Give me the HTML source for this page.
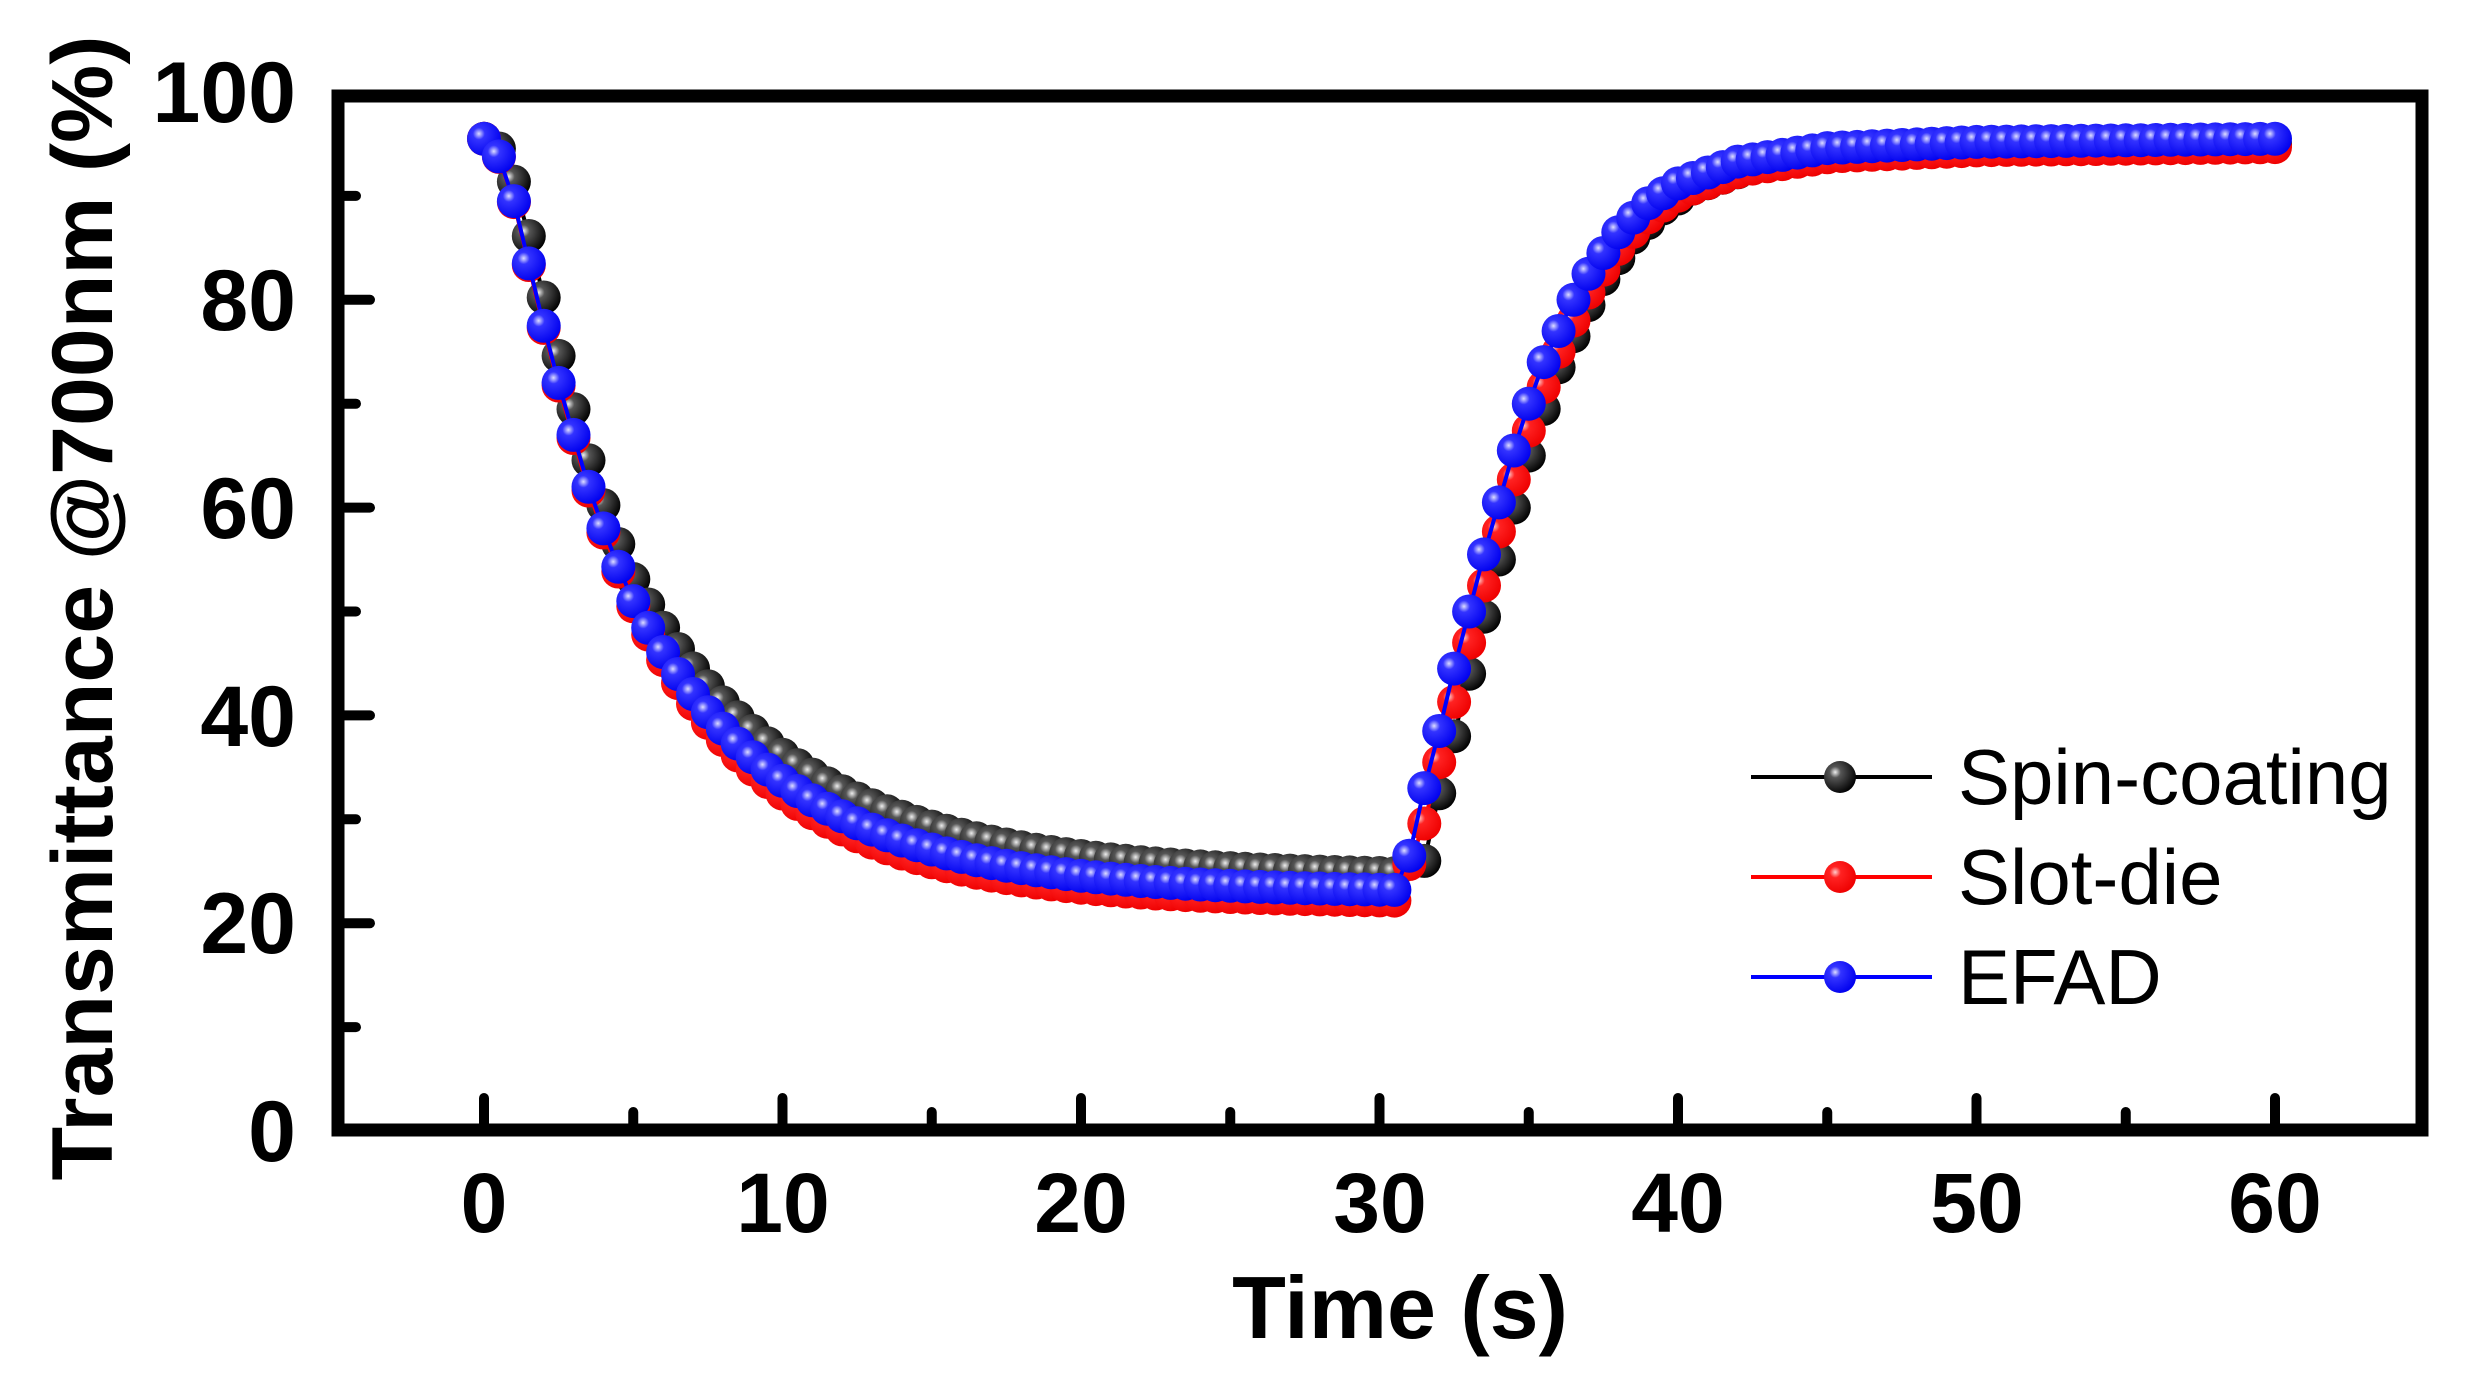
<!DOCTYPE html>
<html><head><meta charset="utf-8"><style>
html,body{margin:0;padding:0;background:#fff;}
svg{display:block;}
text{font-family:"Liberation Sans",sans-serif;}
</style></head><body>
<svg id="s" width="2466" height="1393" viewBox="0 0 2466 1393" xmlns="http://www.w3.org/2000/svg">
<defs>
<radialGradient id="gk" cx="0.35" cy="0.35" r="0.7"><stop offset="0" stop-color="#eee"/><stop offset="0.25" stop-color="#555"/><stop offset="1" stop-color="#000"/></radialGradient>
<radialGradient id="gr" cx="0.35" cy="0.35" r="0.7"><stop offset="0" stop-color="#fcc"/><stop offset="0.25" stop-color="#f22"/><stop offset="1" stop-color="#e00"/></radialGradient>
<radialGradient id="gb" cx="0.35" cy="0.35" r="0.7"><stop offset="0" stop-color="#ddf"/><stop offset="0.25" stop-color="#33f"/><stop offset="1" stop-color="#00e"/></radialGradient>
</defs>
<g id="data"></g>
<rect x="338" y="96" width="2084" height="1034" fill="none" stroke="#000" stroke-width="13"/>
<g id="ticks" stroke="#000" stroke-width="10" stroke-linecap="round"></g>
<g font-weight="bold" font-size="86" text-anchor="end">
<text x="296" y="1161">0</text><text x="296" y="953">20</text><text x="296" y="746">40</text>
<text x="296" y="538">60</text><text x="296" y="330">80</text><text x="296" y="122">100</text>
</g>
<g font-weight="bold" font-size="84" text-anchor="middle">
<text x="484" y="1232">0</text><text x="783" y="1232">10</text><text x="1081" y="1232">20</text>
<text x="1380" y="1232">30</text><text x="1678" y="1232">40</text><text x="1977" y="1232">50</text><text x="2275" y="1232">60</text>
<text x="1400" y="1338" font-size="88">Time (s)</text>
<text transform="translate(112,608) rotate(-90)" font-size="86" textLength="1145" lengthAdjust="spacingAndGlyphs">Transmittance @700nm (%)</text>
</g>
<g font-size="78">
<line x1="1751" y1="777" x2="1932" y2="777" stroke="#000" stroke-width="4"/>
<circle cx="1840" cy="777" r="16" fill="url(#gk)"/>
<text x="1958" y="804">Spin-coating</text>
<line x1="1751" y1="877" x2="1932" y2="877" stroke="#f00" stroke-width="4"/>
<circle cx="1840" cy="877" r="16" fill="url(#gr)"/>
<text x="1958" y="904">Slot-die</text>
<line x1="1751" y1="977" x2="1932" y2="977" stroke="#00f" stroke-width="4"/>
<circle cx="1840" cy="977" r="16" fill="url(#gb)"/>
<text x="1958" y="1004">EFAD</text>
</g>
</svg>
<script>
var X=function(t){return 484+t*29.85;},Y=function(v){return 1131-v*10.39;};
var tk=document.getElementById('ticks'),h='';
for(var t=0;t<=60;t+=5){var x=X(t),L=t%10?12:26;h+='<line x1="'+x+'" y1="1124" x2="'+x+'" y2="'+(1124-L)+'"/>';}
for(var v=10;v<100;v+=10){var y=Y(v),L=v%20?12:26;h+='<line x1="344" y1="'+y+'" x2="'+(344+L)+'" y2="'+y+'"/>';}
tk.innerHTML=h;
function interp(tab,t){if(t<=tab[0][0])return tab[0][1];for(var i=1;i<tab.length;i++)if(t<=tab[i][0]){var a=tab[i-1],b=tab[i];return a[1]+(b[1]-a[1])*(t-a[0])/(b[0]-a[0]);}return tab[tab.length-1][1];}
var rp=[[31,26.5],[31.5,33],[32,38.5],[32.5,44.5],[33,50],[33.5,55.5],[34,60.5],[34.5,65.5],[35,70],[35.5,74],[36,77],[36.5,80],[37,82.5],[38,86.5],[39,89.3],[40,91.2],[42,93.3],[45,94.6],[50,95.2],[60,95.5]];
var ep=[[0,95.5],[0.5,93.8],[1,89.5],[1.5,83.5],[2,77.5],[2.5,72],[3,67],[3.5,62],[4,58],[4.5,54.3],[5,51]];
function ser(fl,tau,lag,off,lag0,off0){var p=[];var v5=interp(ep,5-lag0)+off0;for(var i=0;i<=120;i++){var t=i*0.5,v;
 if(t<=5)v=Math.min(95.5,interp(ep,t-lag0)+off0*(t/5));
 else if(t<=30.5)v=fl+(v5-fl)*Math.exp(-(t-5)/tau);
 else v=Math.max(fl+0.5,interp(rp,t-lag)+off);
 p.push([X(t),Y(v)]);}return p;}
var S=[[ser(24.5,5.6,0.5,-0.5,0.2,0.8),'#000','gk'],[ser(22,5.0,0.2,-0.8,0,-0.5),'#f00','gr'],[ser(23,5.2,0,0,0,0)],'#00f','gb'];
S=[[ser(24.5,5.6,0.5,-0.5,0.2,0.8),'#000','gk'],[ser(22,5.0,0.2,-0.8,0,-0.5),'#f00','gr'],[ser(23,5.2,0,0,0,0),'#00f','gb']];
var g='';S.forEach(function(s){var pts=s[0].map(function(p){return p[0].toFixed(1)+','+p[1].toFixed(1)}).join(' ');
 g+='<polyline points="'+pts+'" fill="none" stroke="'+s[1]+'" stroke-width="4"/>';
 s[0].forEach(function(p){g+='<circle cx="'+p[0].toFixed(1)+'" cy="'+p[1].toFixed(1)+'" r="17" fill="url(#'+s[2]+')"/>';});});
document.getElementById('data').innerHTML=g;
</script>
</body></html>
